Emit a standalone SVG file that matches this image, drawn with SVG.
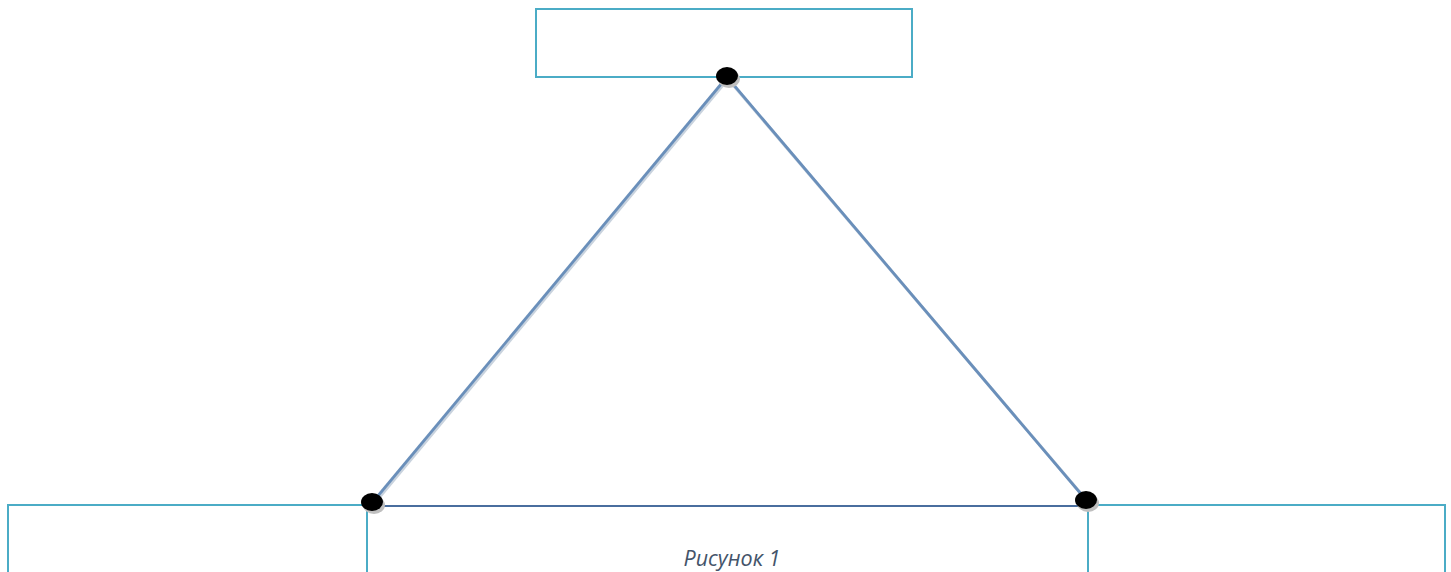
<svg xmlns="http://www.w3.org/2000/svg" width="1451" height="572" viewBox="0 0 1451 572">
<defs>
<style>
.box{fill:#ffffff;stroke:#4bacc6;stroke-width:2}
.edge{stroke:#6a8fba;stroke-width:2.8;fill:none}
.edgeShadow{stroke:#c9d3de;stroke-width:3;fill:none}
.dot{fill:#000000}
.dotShadow{fill:#bfbfbf}
.cap{font-family:"Open Sans","Liberation Sans",sans-serif;font-style:italic;font-size:21.5px;fill:#44546a}
</style>
</defs>
<rect width="1451" height="572" fill="#ffffff"/>
<g id="node-top"><rect class="box" x="536" y="9" width="376" height="68"/></g>
<g id="node-left"><rect class="box" x="8" y="505" width="359" height="80"/></g>
<g id="node-middle"><rect class="box" x="367" y="506" width="721" height="80"/></g>
<g id="node-right"><rect class="box" x="1088" y="505" width="357" height="80"/></g>
<g id="connectors">
<line class="edgeShadow" x1="728" y1="79" x2="373" y2="505"/>
<line class="edgeShadow" x1="728" y1="79" x2="1089" y2="503"/>
<line class="edge" x1="727" y1="77" x2="372" y2="503"/>
<line class="edge" x1="727" y1="77" x2="1087" y2="501"/>
<line x1="372" y1="506" x2="1087" y2="506" stroke="#4a6e9e" stroke-width="2"/>
</g>
<g id="dots">
<ellipse class="dotShadow" cx="729" cy="79" rx="11" ry="9"/>
<ellipse class="dot" cx="727" cy="76" rx="11" ry="9"/>
<ellipse class="dotShadow" cx="374" cy="505" rx="11" ry="9"/>
<ellipse class="dot" cx="372" cy="502" rx="11" ry="9"/>
<ellipse class="dotShadow" cx="1088" cy="503" rx="11" ry="9"/>
<ellipse class="dot" cx="1086" cy="500" rx="11" ry="9"/>
</g>
<g id="caption"><text class="cap" x="732" y="566" text-anchor="middle">Рисунок 1</text></g>
</svg>
